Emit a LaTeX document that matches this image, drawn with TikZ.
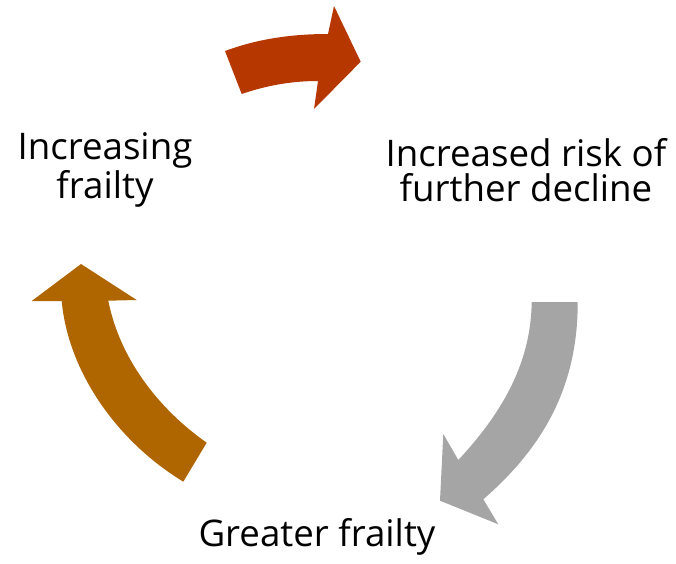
\documentclass[tikz,border=0pt]{standalone}
\usepackage{fontspec}
\setmainfont{Open Sans}
\usepackage{tikz}
\definecolor{cycRed}{RGB}{183,55,0}
\definecolor{cycGray}{RGB}{165,165,165}
\definecolor{cycBrown}{RGB}{176,102,0}
\tikzset{
  lbl/.style   = {align = center, inner sep = 0pt,
                  font = \fontsize{27.5}{26.5}\selectfont},
  bigarr/.style = {draw = none},
  redarr/.style   = {bigarr, fill = cycRed},
  grayarr/.style  = {bigarr, fill = cycGray},
  brownarr/.style = {bigarr, fill = cycBrown}
}
\begin{document}
\begin{tikzpicture}[x=0.75pt,y=-0.75pt]
  \useasboundingbox (0,0) rectangle (676,564);

  \node[lbl] (incr) at (105,170) {Increasing\\frailty};
  \node[lbl] (risk) at (526,170) {Increased risk of\\further decline};
  \node[lbl] (great) at (317,537) {Greater frailty};

  % block arrows of the cycle
  \path[redarr] (225,51) .. controls (260,38) and (295,34) .. (328,34)
    -- (334,6) -- (360.7,61.7) -- (314,109) -- (318,81)
    .. controls (290,81) and (265,86) .. (241.7,94) -- cycle;
  \path[grayarr] (531.7,302) -- (577.7,302)
    .. controls (578,390) and (540,450) .. (483.3,499.3)
    -- (498.3,524.3) -- (440,500.7) -- (443.3,434) -- (458.3,460)
    .. controls (505,410) and (531,360) .. (531.7,302) -- cycle;
  \path[brownarr] (183.3,481.7) .. controls (115,440) and (68,370) .. (61.7,301)
    -- (31.7,301) -- (81,264) -- (136.7,300) -- (108.3,300.7)
    .. controls (120,360) and (160,410) .. (206.7,442.7) -- cycle;
\end{tikzpicture}
\end{document}
